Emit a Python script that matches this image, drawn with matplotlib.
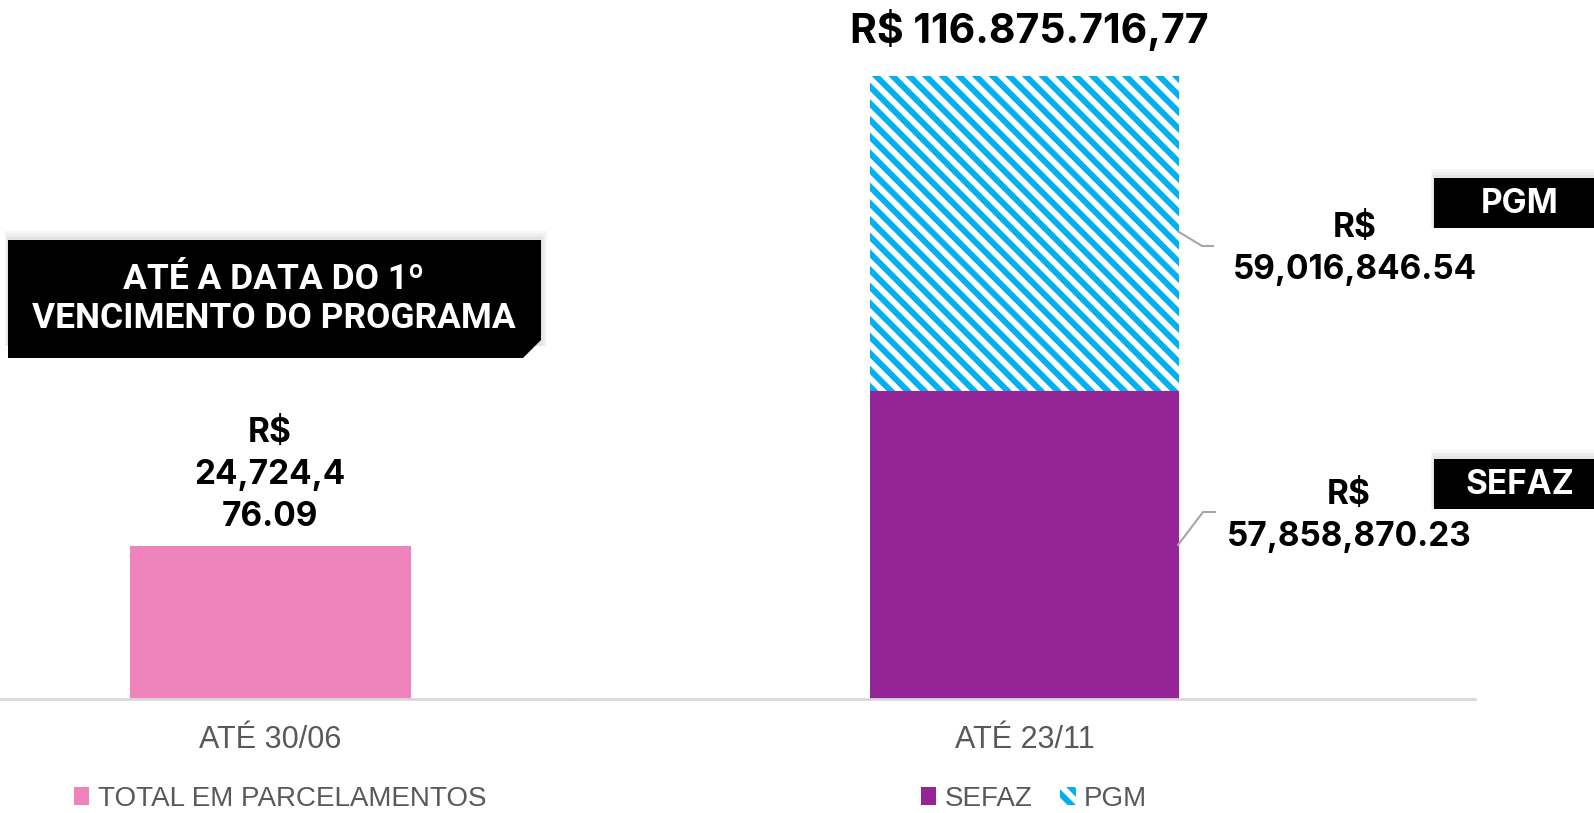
import matplotlib.pyplot as plt
from matplotlib.patches import Polygon, Rectangle
from matplotlib.lines import Line2D

# Dados
periodos = ["ATÉ 30/06", "ATÉ 23/11"]
total_parcelamentos = [24724476.09]
sefaz = [57858870.23]
pgm = [59016846.54]

# Cores
cor_total = "#EF83BC"
cor_sefaz = "#952496"
cor_pgm = "#00B0F0"
cor_texto = "#595959"
cor_linha = "#D9D9D9"

plt.rcParams["hatch.linewidth"] = 4.3

W, H = 1594, 813
fig = plt.figure(figsize=(W / 100, H / 100), dpi=100)


def fx(x):
    return x / W


def fy(y):
    return 1 - y / H


def fmt_us(v):
    return f"{v:,.2f}"


def fmt_br(v):
    return f"{v:,.2f}".replace(",", "X").replace(".", ",").replace("X", ".")


fonte_bold = ["Inter", "Roboto", "DejaVu Sans"]
fonte_reg = ["Liberation Sans", "DejaVu Sans"]

base_px = 699
total_dir = sefaz[0] + pgm[0]

# Eixo esquerdo
ax1 = fig.add_axes([0, fy(base_px), fx(574), base_px / H])
larg1 = 0.6
u1 = 281 / larg1
ax1.bar([0], total_parcelamentos, width=larg1, color=cor_total, label="TOTAL EM PARCELAMENTOS")
ax1.set_xlim(-270 / u1, (574 - 270) / u1)
ax1.set_ylim(0, total_parcelamentos[0] * base_px / (base_px - 546))
ax1.set_xticks([0])
ax1.set_xticklabels([periodos[0]])

# Eixo direito
ax2 = fig.add_axes([fx(574), fy(base_px), fx(1475 - 574), base_px / H])
larg2 = 309 / (1475 - 574)
ax2.bar([0], sefaz, width=larg2, color=cor_sefaz, label="SEFAZ")
ax2.bar([0], pgm, bottom=sefaz, width=larg2, color="white", edgecolor=cor_pgm,
        linewidth=0, hatch="\\\\", label="PGM")
ax2.set_xlim(-0.5, 0.5)
ax2.set_ylim(0, total_dir * base_px / (base_px - 76))
ax2.set_xticks([0])
ax2.set_xticklabels([periodos[1]])

for ax in (ax1, ax2):
    for s in ("top", "left", "right"):
        ax.spines[s].set_visible(False)
    ax.spines["bottom"].set_color(cor_linha)
    ax.spines["bottom"].set_linewidth(2)
    ax.set_yticks([])
    ax.tick_params(axis="x", length=0, pad=19, labelsize=22, labelcolor=cor_texto)
    for t in ax.get_xticklabels():
        t.set_fontfamily(fonte_reg)
    ax.patch.set_alpha(0)

# Legendas
leg_kw = dict(frameon=False, handlelength=0.55, handleheight=0.62, handletextpad=0.3,
              columnspacing=1.0, borderpad=0, labelcolor=cor_texto,
              prop={"family": fonte_reg, "size": 20}, loc="center")
ax1.legend(bbox_to_anchor=(fx(280), fy(799)), bbox_transform=fig.transFigure, **leg_kw)
ax2.legend(bbox_to_anchor=(fx(1034), fy(799)), bbox_transform=fig.transFigure, ncol=2, **leg_kw)

# Rótulos de dados
s_esq = fmt_us(total_parcelamentos[0])
fig.text(fx(270), fy(475), "R$\n" + s_esq[:8] + "\n" + s_esq[8:], ha="center", va="center",
         fontsize=24, fontweight="bold", family=fonte_bold, linespacing=1.42)
fig.text(fx(1029), fy(30), "R$ " + fmt_br(total_dir), ha="center", va="center",
         fontsize=29.5, fontweight="bold", family=fonte_bold)
fig.text(fx(1355), fy(249), "R$\n" + fmt_us(pgm[0]), ha="center", va="center",
         fontsize=24, fontweight="bold", family=fonte_bold, linespacing=1.42)
fig.text(fx(1349), fy(516), "R$\n" + fmt_us(sefaz[0]), ha="center", va="center",
         fontsize=24, fontweight="bold", family=fonte_bold, linespacing=1.42)

# Linhas de chamada
for xs, ys in (([1179, 1202, 1213], [232, 246, 246]), ([1178, 1203, 1215], [545, 512, 512])):
    fig.add_artist(Line2D([fx(x) for x in xs], [fy(y) for y in ys], color="#A6A6A6", lw=1.5))


def sombra(x0, y0, x1, y1):
    for d in (9, 6, 3):
        fig.add_artist(Rectangle((fx(x0 - d / 3), fy(y1)), fx(x1 - x0 + d), (y1 - y0 + d) / H,
                                 facecolor="black", alpha=0.035, edgecolor="none"))


# Caixas pretas PGM / SEFAZ
for nome, y0, y1 in (("PGM", 178, 228), ("SEFAZ", 459, 509)):
    sombra(1434, y0, 1594, y1)
    fig.add_artist(Rectangle((fx(1434), fy(y1)), fx(1594 - 1434), (y1 - y0) / H,
                             facecolor="black", edgecolor="none"))
    fig.text(fx(1520), fy((y0 + y1) / 2 + 1), nome, ha="center", va="center", color="white",
             fontsize=24, fontweight="bold", family=fonte_bold)

# Caixa de destaque
bx0, by0, bx1, by1, c = 8, 240, 541, 358, 18
sombra(bx0, by0, bx1, by1 - 12)
fig.add_artist(Polygon([(fx(bx0), fy(by0)), (fx(bx1), fy(by0)), (fx(bx1), fy(by1 - c)),
                        (fx(bx1 - c), fy(by1)), (fx(bx0), fy(by1))],
                       closed=True, facecolor="black", edgecolor="none"))
fig.text(fx(274), fy(299), "ATÉ A DATA DO 1º\nVENCIMENTO DO PROGRAMA", ha="center", va="center",
         color="white", fontsize=25.5, fontweight="bold",
         family=["Roboto", "DejaVu Sans"], linespacing=1.25)

fig.savefig("out.png", dpi=100)
